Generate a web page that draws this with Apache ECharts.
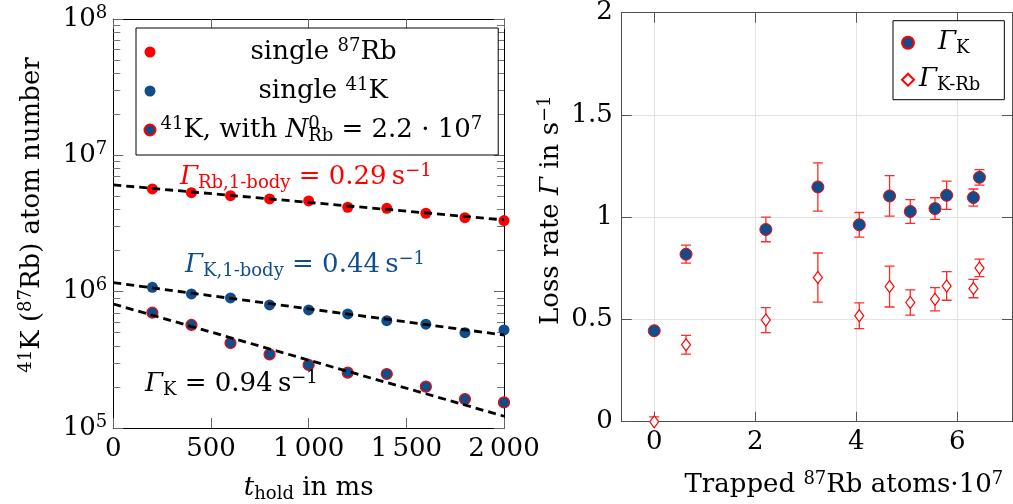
<!DOCTYPE html>
<html><head><meta charset="utf-8">
<script src="https://cdn.jsdelivr.net/npm/echarts@6/dist/echarts.min.js"></script>
<style>html,body{margin:0;padding:0;background:#fff}#c{width:1013px;height:504px}</style>
</head><body><div id="c"></div>
<script>
// ---------- data: left panel (atom number vs hold time) ----------
const tHold = [200, 400, 600, 800, 1000, 1200, 1400, 1600, 1800, 2000];
const rbSingle = [5.67e6, 5.32e6, 5.06e6, 4.79e6, 4.63e6, 4.16e6, 4.09e6, 3.76e6, 3.49e6, 3.32e6];
const kSingle = [1.077e6, 9.62e5, 8.99e5, 7.99e5, 7.34e5, 6.86e5, 6.13e5, 5.77e5, 5.00e5, 5.24e5];
const kWithRb = [7.01e5, 5.70e5, 4.20e5, 3.47e5, 2.90e5, 2.55e5, 2.49e5, 2.01e5, 1.63e5, 1.54e5];
// fitted exponential decays (end points)
const fitT = [0, 2000];
const fitRb = [6.07e6, 3.36e6];
const fitK = [1.165e6, 4.81e5];
const fitKRb = [8.12e5, 1.22e5];
const leftXTicks = [0, 500, 1000, 1500, 2000];
const leftYTicks = [1e5, 1e6, 1e7, 1e8];

// ---------- data: right panel (loss rate vs trapped Rb atoms) ----------
const rbAtoms = [0, 0.63, 2.21, 3.24, 4.06, 4.66, 5.07, 5.56, 5.79, 6.32, 6.44];
const gammaK = [0.445, 0.819, 0.940, 1.148, 0.963, 1.104, 1.028, 1.042, 1.107, 1.096, 1.195];
const gammaKErr = [0.01, 0.044, 0.06, 0.118, 0.06, 0.099, 0.058, 0.053, 0.069, 0.042, 0.038];
const gammaKRb = [0, 0.376, 0.497, 0.705, 0.518, 0.661, 0.583, 0.599, 0.664, 0.651, 0.752];
const gammaKRbErr = [0.024, 0.046, 0.061, 0.12, 0.063, 0.1, 0.062, 0.057, 0.07, 0.045, 0.043];
const rightXTicks = [0, 2, 4, 6];
const rightYTicks = [0, 0.5, 1, 1.5, 2];

// ---------- styling ----------
const FONT = '"DejaVu Serif", "Liberation Serif", serif';
const RED = '#ff0000', BLUE = '#104E8B';
const FS = 26, FSS = 18;
const rich = {
  n: {fontFamily: FONT, fontSize: FS, lineHeight: 30},
  i: {fontFamily: FONT, fontSize: FS, lineHeight: 30, fontStyle: 'italic'},
  sup: {fontFamily: FONT, fontSize: FSS, lineHeight: 15, verticalAlign: 'top'},
  sub: {fontFamily: FONT, fontSize: FSS, lineHeight: 17, verticalAlign: 'bottom'},
  sup0: {fontFamily: FONT, fontSize: FSS, lineHeight: 15, verticalAlign: 'top', width: 0},
  sp1: {fontFamily: FONT, fontSize: FS, lineHeight: 30, width: 90},
  sp2: {fontFamily: FONT, fontSize: FS, lineHeight: 30, width: 98},
  sp3: {fontFamily: FONT, fontSize: FS, lineHeight: 30, width: 19}
};

const minorTicks = [];
for (let e = 5; e < 8; e++) for (let m = 2; m <= 9; m++) minorTicks.push(m * Math.pow(10, e));

const legendText = {
  'single 87Rb': '{sp1| }{n|single }{sup|87}{n|Rb}',
  'single 41K': '{sp2| }{n|single }{sup|41}{n|K}',
  '41K with Rb': '{sup|41}{n|K, with }{i|N}{sup0|0}{sub|Rb}{n| = 2.2 · 10}{sup|7}',
  'GammaK': '{sp3| }{i|Γ}{sub|K}',
  'GammaKRb': '{i|Γ}{sub|K-Rb}'
};

function thousands(v) {
  return v >= 1000 ? Math.floor(v / 1000) + '\u2009' + String(v % 1000).padStart(3, '0') : String(v);
}

const axisLineL = {show: true, onZero: false, lineStyle: {color: '#000', width: 1}};
const axisLineR = {show: true, onZero: false, lineStyle: {color: '#4d4d4d', width: 1}};
const tickL = {show: true, inside: true, length: 10, lineStyle: {color: '#666', width: 1}};
const tickR = {show: true, inside: true, length: 10, lineStyle: {color: '#555', width: 1}};
const labelBase = {fontFamily: FONT, fontSize: FS, color: '#000'};

function errBars(xs, ys, es) {
  return {
    type: 'custom', xAxisIndex: 2, yAxisIndex: 3, z: 2, clip: true, silent: true,
    data: xs.map((x, i) => [x, ys[i], es[i]]),
    encode: {x: 0, y: 1},
    renderItem: function (params, api) {
      const x = api.value(0), y = api.value(1), e = api.value(2);
      const top = api.coord([x, y + e]), bot = api.coord([x, y - e]);
      const w = 5;
      const st = {stroke: '#ff2a2a', lineWidth: 1.3};
      return {type: 'group', children: [
        {type: 'line', shape: {x1: top[0], y1: top[1], x2: bot[0], y2: bot[1]}, style: st},
        {type: 'line', shape: {x1: top[0] - w, y1: top[1], x2: top[0] + w, y2: top[1]}, style: st},
        {type: 'line', shape: {x1: bot[0] - w, y1: bot[1], x2: bot[0] + w, y2: bot[1]}, style: st}
      ]};
    }
  };
}

function fitLine(vals) {
  return {
    type: 'line', xAxisIndex: 0, yAxisIndex: 0, z: 4, silent: true,
    data: fitT.map((t, i) => [t, vals[i]]), symbol: 'none', showSymbol: false,
    lineStyle: {color: '#000', width: 2.8, type: [8, 5]}
  };
}

const option = {
  animation: false,
  backgroundColor: '#fff',
  grid: [
    {left: 113.3, top: 19, width: 390.7, height: 409, containLabel: false, outerBoundsMode: 'none'},
    {left: 621.7, top: 12.7, width: 390.3, height: 409, containLabel: false, outerBoundsMode: 'none'}
  ],
  xAxis: [
    {gridIndex: 0, type: 'value', min: 0, max: 2000, interval: 500, position: 'bottom',
     axisLine: axisLineL, axisTick: tickL, splitLine: {show: false},
     axisLabel: Object.assign({margin: 8, formatter: thousands}, labelBase),
     name: '{i|t}{sub|hold}{n| in ms}', nameLocation: 'middle', nameGap: 45,
     nameTextStyle: {rich: rich, color: '#000'}},
    {gridIndex: 0, type: 'value', min: 0, max: 2000, interval: 500, position: 'top',
     axisLine: axisLineL, axisTick: tickL, splitLine: {show: false}, axisLabel: {show: false}},
    {gridIndex: 1, type: 'value', min: -0.644, max: 7.084, position: 'bottom',
     axisLine: axisLineR, axisTick: Object.assign({customValues: rightXTicks}, tickR),
     splitLine: {show: true, lineStyle: {color: '#e3e3e3', width: 1}},
     axisLabel: Object.assign({margin: 8, customValues: rightXTicks}, labelBase),
     name: '{n|Trapped }{sup|87}{n|Rb atoms·10}{sup|7}', nameLocation: 'middle', nameGap: 49,
     nameTextStyle: {rich: rich, color: '#000', padding: [0, 0, 0, 54]}},
    {gridIndex: 1, type: 'value', min: -0.644, max: 7.084, position: 'top',
     axisLine: axisLineR, axisTick: Object.assign({customValues: rightXTicks}, tickR),
     splitLine: {show: false}, axisLabel: {show: false}}
  ],
  yAxis: [
    {gridIndex: 0, type: 'log', logBase: 10, min: 1e5, max: 1e8, position: 'left',
     axisLine: axisLineL, axisTick: Object.assign({customValues: leftYTicks}, tickL),
     splitLine: {show: false},
     axisLabel: {margin: 6, customValues: leftYTicks, color: '#000', rich: rich,
       formatter: v => '{n|10}{sup|' + Math.round(Math.log10(v)) + '}'},
     name: '{sup|41}{n|K (}{sup|87}{n|Rb) atom number}', nameLocation: 'middle', nameGap: 66,
     nameTextStyle: {rich: rich, color: '#000', padding: [0, 0, 0, 17]}},
    {gridIndex: 0, type: 'log', logBase: 10, min: 1e5, max: 1e8, position: 'left',
     axisLine: {show: false, onZero: false}, axisTick: {show: true, inside: true, length: 7, customValues: minorTicks, lineStyle: {color: '#777'}},
     splitLine: {show: false}, axisLabel: {show: false}},
    {gridIndex: 0, type: 'log', logBase: 10, min: 1e5, max: 1e8, position: 'right',
     axisLine: axisLineL, axisTick: Object.assign({customValues: leftYTicks}, tickL),
     splitLine: {show: false}, axisLabel: {show: false}},
    {gridIndex: 1, type: 'value', min: 0, max: 2, interval: 0.5, position: 'left',
     axisLine: axisLineR, axisTick: tickR,
     splitLine: {show: true, lineStyle: {color: '#e3e3e3', width: 1}},
     axisLabel: Object.assign({margin: 9}, labelBase),
     name: '{n|Loss rate }{i|Γ}{n| in s}{sup|−1}', nameLocation: 'middle', nameGap: 55,
     nameTextStyle: {rich: rich, color: '#000', padding: [0, 0, 0, 14]}},
    {gridIndex: 1, type: 'value', min: 0, max: 2, interval: 0.5, position: 'right',
     axisLine: axisLineR, axisTick: tickR, splitLine: {show: false}, axisLabel: {show: false}},
    {gridIndex: 0, type: 'log', logBase: 10, min: 1e5, max: 1e8, position: 'right',
     axisLine: {show: false, onZero: false}, axisTick: {show: true, inside: true, length: 7, customValues: minorTicks, lineStyle: {color: '#777'}},
     splitLine: {show: false}, axisLabel: {show: false}}
  ],
  legend: [
    {data: ['single 87Rb', 'single 41K', '41K with Rb'], orient: 'vertical',
     left: 136, top: 28, padding: [9, 16, 10, 7.5], itemGap: 9, itemWidth: 11, itemHeight: 11,
     borderColor: '#000', borderWidth: 1, backgroundColor: '#fff', borderRadius: 0,
     selectedMode: false, textStyle: {rich: rich, color: '#000', lineHeight: 30},
     formatter: n => legendText[n]},
    {data: ['GammaK', 'GammaKRb'], orient: 'vertical',
     left: 893, top: 20.7, padding: [7, 24, 5, 8], itemGap: 7, itemWidth: 12, itemHeight: 12,
     borderColor: '#000', borderWidth: 1, backgroundColor: '#fff', borderRadius: 0,
     selectedMode: false, textStyle: {rich: rich, color: '#000', lineHeight: 30},
     formatter: n => legendText[n]}
  ],
  graphic: [
    {type: 'text', left: 180, top: 162, z: 10,
     style: {text: '{i|Γ}{sub|Rb,1-body}{n| = 0.29\u2009s}{sup|−1}', rich: rich, fill: RED}},
    {type: 'text', left: 185, top: 250, z: 10,
     style: {text: '{i|Γ}{sub|K,1-body}{n| = 0.44\u2009s}{sup|−1}', rich: rich, fill: BLUE}},
    {type: 'text', left: 145, top: 369, z: 10,
     style: {text: '{i|Γ}{sub|K}{n| = 0.94\u2009s}{sup|−1}', rich: rich, fill: '#000'}}
  ],
  series: [
    fitLine(fitRb), fitLine(fitK), fitLine(fitKRb),
    {name: 'single 87Rb', type: 'scatter', xAxisIndex: 0, yAxisIndex: 0, z: 3,
     symbol: 'circle', symbolSize: 11, itemStyle: {color: RED, opacity: 1},
     data: tHold.map((t, i) => [t, rbSingle[i]])},
    {name: 'single 41K', type: 'scatter', xAxisIndex: 0, yAxisIndex: 0, z: 3,
     symbol: 'circle', symbolSize: 11, itemStyle: {color: BLUE, opacity: 1},
     data: tHold.map((t, i) => [t, kSingle[i]])},
    {name: '41K with Rb', type: 'scatter', xAxisIndex: 0, yAxisIndex: 0, z: 3,
     symbol: 'circle', symbolSize: 11, itemStyle: {color: BLUE, borderColor: RED, borderWidth: 1.2, opacity: 1},
     data: tHold.map((t, i) => [t, kWithRb[i]])},
    errBars(rbAtoms, gammaK, gammaKErr),
    errBars(rbAtoms, gammaKRb, gammaKRbErr),
    {name: 'GammaK', type: 'scatter', xAxisIndex: 2, yAxisIndex: 3, z: 3,
     symbol: 'circle', symbolSize: 12, itemStyle: {color: BLUE, borderColor: RED, borderWidth: 1, opacity: 1},
     data: rbAtoms.map((x, i) => [x, gammaK[i]])},
    {name: 'GammaKRb', type: 'scatter', xAxisIndex: 2, yAxisIndex: 3, z: 3,
     symbol: 'diamond', symbolSize: [9, 12], itemStyle: {color: '#fff', borderColor: RED, borderWidth: 1.2, opacity: 1},
     data: rbAtoms.map((x, i) => [x, gammaKRb[i]])}
  ]
};
echarts.init(document.getElementById('c'), null, {renderer: 'canvas'}).setOption(option);
</script>
</body></html>
